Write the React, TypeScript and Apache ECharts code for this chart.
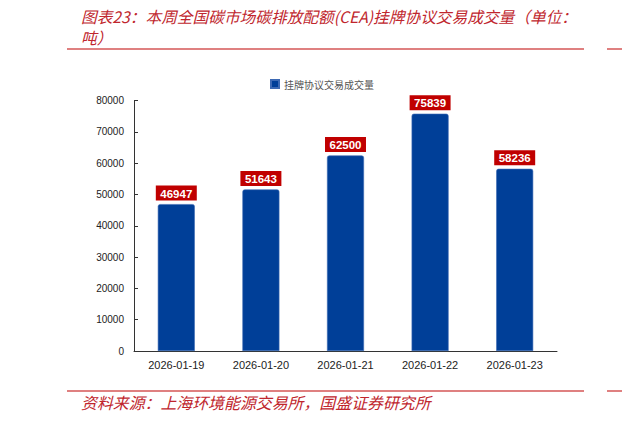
import React, { useEffect, useRef } from 'react';
import * as echarts from 'echarts';

// chart data
const dates = ['2026-01-19', '2026-01-20', '2026-01-21', '2026-01-22', '2026-01-23'];
const volumes = [46947, 51643, 62500, 75839, 58236];
const seriesName = '挂牌协议交易成交量';
const titleLine1 = '图表23：本周全国碳市场碳排放配额(CEA)挂牌协议交易成交量（单位：';
const titleLine2 = '吨）';
const sourceText = '资料来源：上海环境能源交易所，国盛证券研究所';

const RED = '#c0262d';
const RULE = '#d45656';
const CJK = '"Noto Sans CJK SC", "Noto Sans", sans-serif';
const NUM = 'Liberation Sans, Arial, sans-serif';

const App: React.FC = () => {
  const chartRef = useRef<HTMLDivElement | null>(null);

  useEffect(() => {
    if (!chartRef.current) return;
    const chart = echarts.init(chartRef.current, undefined, { renderer: 'svg' });

    const option = {
      animation: false,
      backgroundColor: '#ffffff',
      legend: {
        data: [seriesName],
        left: 265,
        top: 74,
        itemWidth: 8,
        itemHeight: 8,
        icon: 'rect',
        textStyle: { fontSize: 10, color: '#555', fontFamily: CJK },
      },
      grid: { left: 134, right: 65, top: 100.7, bottom: 71, containLabel: false },
      xAxis: {
        type: 'category',
        data: dates,
        boundaryGap: true,
        axisLine: { lineStyle: { color: '#333', width: 1 } },
        axisTick: { inside: true, length: 4, lineStyle: { color: '#333' } },
        axisLabel: { color: '#222', fontSize: 11, fontFamily: NUM, margin: 8 },
      },
      yAxis: {
        type: 'value',
        min: 0,
        max: 80000,
        interval: 10000,
        axisLine: { show: true, lineStyle: { color: '#333', width: 1 } },
        axisTick: { show: true, inside: true, length: 4, lineStyle: { color: '#333' } },
        splitLine: { show: false },
        axisLabel: {
          color: '#222',
          fontSize: 10,
          fontFamily: NUM,
          margin: 10,
          formatter: (v: number) => String(v),
        },
      },
      series: [
        {
          name: seriesName,
          type: 'bar',
          data: volumes,
          barWidth: 37,
          itemStyle: {
            color: '#003f98',
            borderColor: '#3d69b3',
            borderWidth: 0.6,
            borderRadius: [2, 2, 0, 0],
          },
          label: {
            show: true,
            position: 'top',
            distance: 3.5,
            color: '#ffffff',
            fontWeight: 'bold',
            fontSize: 11.5,
            fontFamily: NUM,
            backgroundColor: '#c00000',
            padding: [2, 4.5, 1, 4.5],
            lineHeight: 12,
          },
        },
      ],
      graphic: [
        {
          type: 'text',
          left: 81,
          top: 9,
          style: { text: titleLine1, fill: RED, font: `italic 15.7px ${CJK}` },
        },
        {
          type: 'text',
          left: 81,
          top: 30,
          style: { text: titleLine2, fill: RED, font: `italic 15.7px ${CJK}` },
        },
        { type: 'line', shape: { x1: 67, y1: 49, x2: 584, y2: 49 }, style: { stroke: RULE, lineWidth: 1.5 } },
        { type: 'line', shape: { x1: 607, y1: 49, x2: 622, y2: 49 }, style: { stroke: RULE, lineWidth: 1.5 } },
        { type: 'line', shape: { x1: 67, y1: 391, x2: 584, y2: 391 }, style: { stroke: RULE, lineWidth: 1.5 } },
        { type: 'line', shape: { x1: 607, y1: 391, x2: 622, y2: 391 }, style: { stroke: RULE, lineWidth: 1.5 } },
        {
          type: 'text',
          left: 81,
          top: 395,
          style: { text: sourceText, fill: RED, font: `italic 15.9px ${CJK}` },
        },
      ],
    };

    chart.setOption(option);
    return () => {
      chart.dispose();
    };
  }, []);

  return (
    <div
      ref={chartRef}
      style={{ position: 'absolute', left: 0, top: 0, width: '622px', height: '422px' }}
    ></div>
  );
};

export default App;
